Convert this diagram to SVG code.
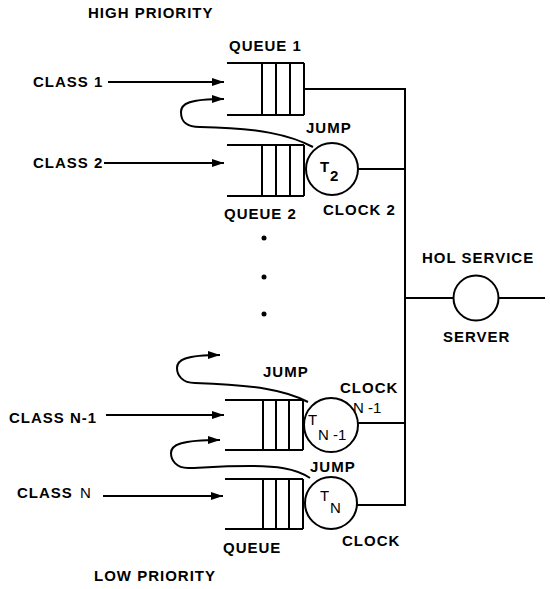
<svg xmlns="http://www.w3.org/2000/svg" width="550" height="589" viewBox="0 0 550 589">
<style>
  .ln { fill: none; stroke: #000; stroke-width: 2; }
  .q { fill: none; stroke: #000; stroke-width: 2; }
  .c { fill: #fff; stroke: #000; stroke-width: 2; }
  .t { font-family: "Liberation Sans", Arial, sans-serif; font-weight: bold; font-size: 15px; letter-spacing: 1px; fill: #000; }
  .s { font-family: "Liberation Sans", Arial, sans-serif; font-size: 15px; fill: #000; }
</style>
<defs>
  <marker id="ah" markerUnits="userSpaceOnUse" markerWidth="13" markerHeight="10" refX="12" refY="5" orient="auto">
    <path d="M0,1 L12,5 L0,9 Z" fill="#000"/>
  </marker>
</defs>
<rect width="550" height="589" fill="#fff"/>

<g id="connectors">
  <path class="ln" d="M304 89 H405"/>
  <path class="ln" d="M405 88 V506"/>
  <path class="ln" d="M358 169 H405"/>
  <path class="ln" d="M358 423 H405"/>
  <path class="ln" d="M357 505 H405"/>
  <path class="ln" d="M405 298 H454"/>
  <path class="ln" d="M498 298 H545"/>
  <path class="ln" d="M108 82 H224" marker-end="url(#ah)"/>
  <path class="ln" d="M104 163 H224" marker-end="url(#ah)"/>
  <path class="ln" d="M106 415 H224" marker-end="url(#ah)"/>
  <path class="ln" d="M103 496 H223" marker-end="url(#ah)"/>
  <path class="ln" d="M313 147 C 290 135, 260 128, 200 127 C 184 127, 181 120, 181 112 C 181 104, 188 99, 224 99" marker-end="url(#ah)"/>
  <path class="ln" d="M308 402 C 285 390, 255 385, 195 383 C 182 383, 177 375, 177 368 C 177 360, 185 355, 220 355" marker-end="url(#ah)"/>
  <path class="ln" d="M310 478 C 295 468, 275 466, 250 466 C 215 466, 200 468, 188 468 C 176 468, 171 460, 171 453 C 171 445, 180 440, 220 440" marker-end="url(#ah)"/>
</g>

<g id="queue1">
  <path class="q" d="M227 63 H304 M227 115 H304 M262 63 V115 M276 63 V115 M290 63 V115 M304 63 V115"/>
  <text class="t" x="229" y="51">QUEUE 1</text>
</g>
<g id="queue2">
  <path class="q" d="M227 145 H304 M227 196 H304 M262 145 V196 M276 145 V196 M290 145 V196 M304 145 V196"/>
  <text class="t" x="224" y="219">QUEUE 2</text>
</g>
<g id="queueN1">
  <path class="q" d="M225 400 H303 M225 450 H303 M263 400 V450 M276 400 V450 M289 400 V450 M303 400 V450"/>
</g>
<g id="queueN">
  <path class="q" d="M225 479 H303 M225 529 H303 M263 479 V529 M276 479 V529 M289 479 V529 M303 479 V529"/>
  <text class="t" x="223" y="553">QUEUE</text>
</g>

<g id="clock2">
  <circle class="c" cx="332" cy="169" r="26"/>
  <text class="s" x="320" y="172" font-weight="bold">T</text>
  <text class="s" x="330" y="181" font-weight="bold" font-size="14">2</text>
  <text class="t" x="323" y="215">CLOCK 2</text>
</g>
<g id="clockN1">
  <circle class="c" cx="331" cy="425" r="27"/>
  <text class="s" x="308" y="425">T</text>
  <text class="s" x="318" y="440" font-size="17">N -1</text>
  <text class="t" x="340" y="393">CLOCK</text>
  <text class="s" x="353" y="413" font-size="16">N -1</text>
</g>
<g id="clockN">
  <circle class="c" cx="331" cy="503" r="26"/>
  <text class="s" x="320" y="501" font-size="14">T</text>
  <text class="s" x="330" y="513" font-size="17">N</text>
  <text class="t" x="342" y="546">CLOCK</text>
</g>
<g id="server">
  <circle class="c" cx="476" cy="298" r="22.5"/>
  <text class="t" x="422" y="263">HOL SERVICE</text>
  <text class="t" x="443" y="342">SERVER</text>
</g>

<g id="dots">
  <circle cx="264" cy="238" r="2.5" fill="#000"/>
  <circle cx="264" cy="277" r="2.5" fill="#000"/>
  <circle cx="264" cy="314" r="2.5" fill="#000"/>
</g>

<g id="labels">
  <text class="t" x="88" y="18">HIGH PRIORITY</text>
  <text class="t" x="33" y="87">CLASS 1</text>
  <text class="t" x="306" y="133">JUMP</text>
  <text class="t" x="33" y="168">CLASS 2</text>
  <text class="t" x="263" y="377">JUMP</text>
  <text class="t" x="9" y="423">CLASS N-1</text>
  <text class="t" x="310" y="472">JUMP</text>
  <text class="t" x="17" y="498" font-size="14">CLASS</text>
  <text class="s" x="80" y="498" font-size="18">N</text>
  <text class="t" x="94" y="581">LOW PRIORITY</text>
</g>
</svg>
